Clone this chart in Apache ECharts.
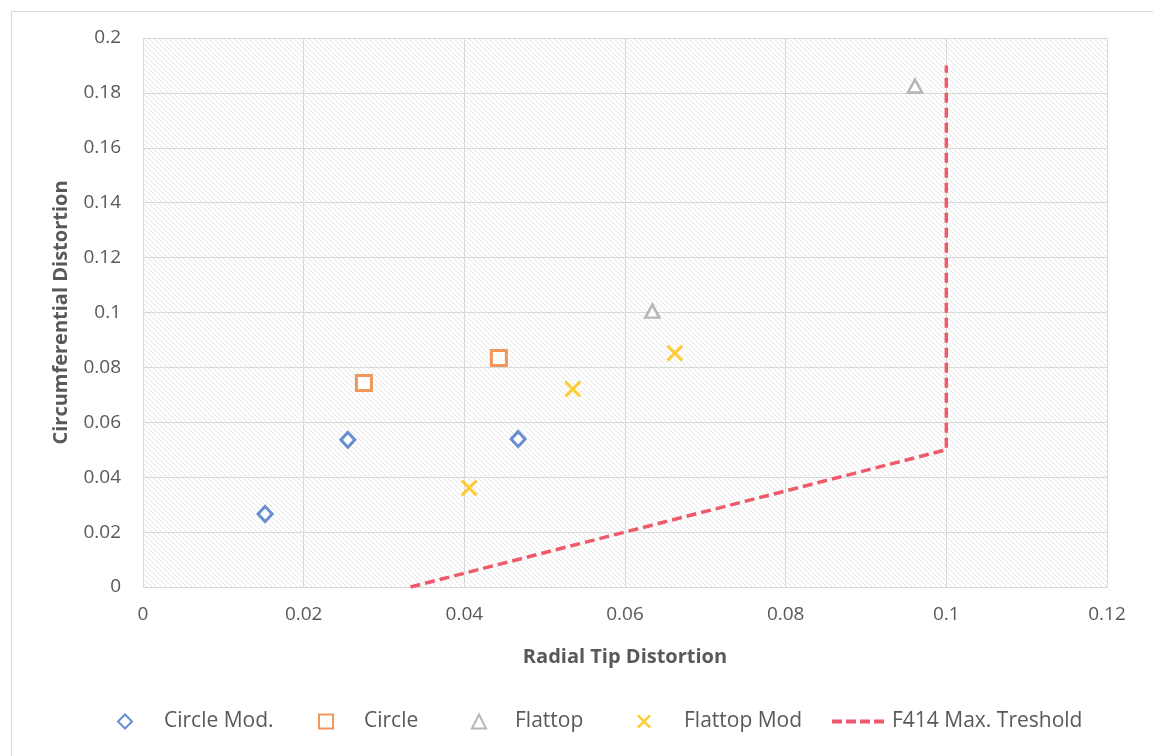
<!DOCTYPE html>
<html>
<head>
<meta charset="utf-8">
<script src="https://cdn.jsdelivr.net/npm/echarts@6/dist/echarts.min.js"></script>
<style>
  html, body { margin: 0; padding: 0; background: #ffffff; }
  #chart { width: 1153px; height: 756px; }
</style>
</head>
<body>
<div id="chart"></div>
<script>
// Measured distortion points: [radial tip distortion, circumferential distortion]
const circleMod = [[0.0152, 0.0266], [0.0255, 0.0536], [0.0467, 0.0539]];
const circle = [[0.0275, 0.0743], [0.0443, 0.0834]];
const flattop = [[0.0634, 0.1005], [0.0961, 0.1825]];
const flattopMod = [[0.0406, 0.0361], [0.0535, 0.0721], [0.0662, 0.0852]];
// F414 maximum distortion threshold boundary
const threshold = [[0.0333, 0], [0.1, 0.05], [0.1, 0.19]];

const seriesNames = ['Circle Mod.', 'Circle', 'Flattop', 'Flattop Mod', 'F414 Max. Treshold'];
const xTicks = { min: 0, max: 0.12, interval: 0.02 };
const yTicks = { min: 0, max: 0.2, interval: 0.02 };

const FONT = '"Open Sans", "Liberation Sans", sans-serif';
const GREY_TEXT = '#595959';

// Diagonal hatch fill for the plot area
function hatchPattern() {
  const s = 5;
  const c = document.createElement('canvas');
  c.width = s; c.height = s;
  const g = c.getContext('2d');
  g.fillStyle = '#ffffff';
  g.fillRect(0, 0, s, s);
  g.strokeStyle = '#e4e4e4';
  g.lineWidth = 1;
  g.beginPath();
  g.moveTo(-1, -1); g.lineTo(s + 1, s + 1);
  g.moveTo(-1, s - 1); g.lineTo(1, s + 1);
  g.moveTo(s - 1, -1); g.lineTo(s + 1, 1);
  g.stroke();
  return c;
}

const crossPath = 'path://M2,0 L8,6 L14,0 L16,2 L10,8 L16,14 L14,16 L8,10 L2,16 L0,14 L6,8 L0,2 Z';

const legendBase = {
  top: 711,
  padding: 0,
  itemWidth: 14,
  itemHeight: 14,
  textStyle: { fontFamily: FONT, fontSize: 21, color: GREY_TEXT }
};
function legendAt(name, left, iconW, textOffset, extra) {
  return Object.assign({}, legendBase, {
    left: left,
    data: [name],
    itemWidth: iconW,
    textStyle: Object.assign({}, legendBase.textStyle, { padding: [0, 0, 0, textOffset] })
  }, extra || {});
}

const chart = echarts.init(document.getElementById('chart'), null, { renderer: 'canvas' });

chart.setOption({
  animation: false,
  backgroundColor: '#ffffff',
  textStyle: { fontFamily: FONT },
  graphic: [{
    type: 'rect',
    left: 9, top: 9,
    shape: { width: 1160, height: 760 },
    style: { fill: 'none', stroke: '#d9d9d9', lineWidth: 1 },
    silent: true,
    z: -10
  }],
  grid: {
    left: 143, right: 46, top: 38, bottom: 169,
    show: true,
    borderWidth: 0,
    backgroundColor: { image: hatchPattern(), repeat: 'repeat' }
  },
  legend: [
    legendAt(seriesNames[0], 117, 14, 27),
    legendAt(seriesNames[1], 318, 14, 26),
    legendAt(seriesNames[2], 471, 14, 24),
    legendAt(seriesNames[3], 637, 16, 27),
    legendAt(seriesNames[4], 830, 55, 0, {
      itemStyle: { opacity: 0 },
      lineStyle: { width: 4, type: [10, 4] }
    })
  ],
  xAxis: {
    type: 'value',
    min: xTicks.min, max: xTicks.max, interval: xTicks.interval,
    name: 'Radial Tip Distortion',
    nameLocation: 'middle',
    nameGap: 60,
    nameTextStyle: { fontFamily: FONT, fontSize: 20, fontWeight: 'bold', color: GREY_TEXT },
    axisLine: { show: true, lineStyle: { color: '#d9d9d9', width: 1 } },
    axisTick: { show: false },
    axisLabel: { color: GREY_TEXT, fontSize: 19, margin: 18, fontFamily: FONT },
    splitLine: { show: true, lineStyle: { color: '#d9d9d9', width: 1 } }
  },
  yAxis: {
    type: 'value',
    min: yTicks.min, max: yTicks.max, interval: yTicks.interval,
    name: 'Circumferential Distortion',
    nameLocation: 'middle',
    nameGap: 72,
    nameTextStyle: { fontFamily: FONT, fontSize: 20, fontWeight: 'bold', color: GREY_TEXT },
    axisLine: { show: false },
    axisTick: { show: false },
    axisLabel: { color: GREY_TEXT, fontSize: 19, margin: 22, fontFamily: FONT },
    splitLine: { show: true, lineStyle: { color: '#d9d9d9', width: 1 } }
  },
  series: [
    {
      name: seriesNames[0], type: 'scatter', data: circleMod,
      symbol: 'diamond', symbolSize: [14, 15],
      itemStyle: { color: '#ffffff', borderColor: '#4472C4', borderWidth: 3 }
    },
    {
      name: seriesNames[1], type: 'scatter', data: circle,
      symbol: 'rect', symbolSize: 15,
      itemStyle: { color: '#ffffff', borderColor: '#ED7D31', borderWidth: 3 }
    },
    {
      name: seriesNames[2], type: 'scatter', data: flattop,
      symbol: 'triangle', symbolSize: [14, 13],
      itemStyle: { color: '#ffffff', borderColor: '#A5A5A5', borderWidth: 2.5 }
    },
    {
      name: seriesNames[3], type: 'scatter', data: flattopMod,
      symbol: crossPath, symbolSize: 17,
      itemStyle: { color: '#FFC000' }
    },
    {
      name: seriesNames[4], type: 'line', data: threshold,
      symbol: 'none', z: 1,
      lineStyle: { color: '#EE5A6A', width: 3.5, type: [10, 5] },
      itemStyle: { color: '#EE5A6A' }
    }
  ]
});
</script>
</body>
</html>
